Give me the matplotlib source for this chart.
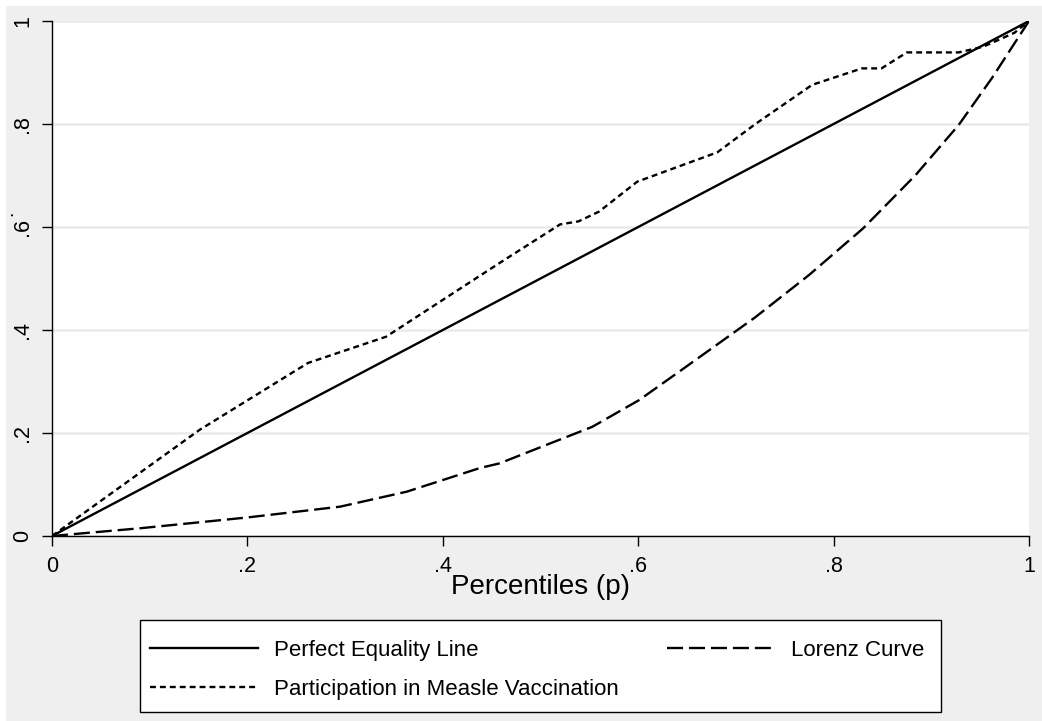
import matplotlib.pyplot as plt
from matplotlib.patches import Rectangle

plt.rcParams['font.family'] = ['Liberation Sans', 'DejaVu Sans']
plt.rcParams['xtick.labelsize'] = 15.5
plt.rcParams['ytick.labelsize'] = 15.5

# percentiles and cumulative shares
equal_p = [0, 0.2, 0.4, 0.6, 0.8, 1.0]
equal_v = [0, 0.2, 0.4, 0.6, 0.8, 1.0]

vacc_p = [0, 0.151, 0.262, 0.342, 0.458, 0.52, 0.539, 0.56, 0.599, 0.681,
          0.72, 0.778, 0.829, 0.849, 0.875, 0.928, 0.953, 0.985, 1.0]
vacc_v = [0, 0.206, 0.336, 0.387, 0.53, 0.605, 0.611, 0.63, 0.688, 0.745,
          0.80, 0.876, 0.908, 0.908, 0.939, 0.939, 0.950, 0.977, 1.0]

lorenz_p = [0, 0.09, 0.2, 0.295, 0.363, 0.438, 0.458, 0.553, 0.601, 0.65,
            0.72, 0.775, 0.830, 0.884, 0.928, 0.962, 1.0]
lorenz_v = [0, 0.015, 0.036, 0.057, 0.086, 0.132, 0.141, 0.212, 0.264, 0.33,
            0.425, 0.507, 0.597, 0.701, 0.798, 0.889, 1.0]

ticks = [0, 0.2, 0.4, 0.6, 0.8, 1.0]
tick_labels = ['0', '.2', '.4', '.6', '.8', '1']

W, H = 1042, 721
fig = plt.figure(figsize=(W / 100, H / 100), dpi=100)
fig.patch.set_facecolor('white')
# stata-like grey graph region, leaves a thin white strip top and left
fig.patches.append(Rectangle((6 / W, 0), 1, 1 - 6 / H, transform=fig.transFigure,
                             facecolor='#efefef', edgecolor='none', zorder=-10))

ax = fig.add_axes([52 / W, 1 - 536 / H, (1029 - 52) / W, (536 - 21) / H])
ax.set_facecolor('white')
ax.set_xlim(0, 1)
ax.set_ylim(0, 1)

LW = 1.7
ax.plot(equal_p, equal_v, color='black', lw=LW, label='Perfect Equality Line')
ax.plot(vacc_p, vacc_v, color='black', lw=LW, dashes=(2.5, 1.7),
        label='Participation in Measle Vaccination')
ax.plot(lorenz_p, lorenz_v, color='black', lw=LW, dashes=(6.8, 2.5),
        label='Lorenz Curve')

ax.set_xticks(ticks, tick_labels)
ax.set_yticks(ticks, tick_labels)
ax.tick_params(length=7.5, width=1, color='black')
ax.tick_params(axis='x', pad=7)
ax.tick_params(axis='y', labelrotation=90, pad=6)
for t in ax.get_yticklabels():
    t.set_va('center')
    t.set_fontsize(15.5)
for t in ax.get_xticklabels():
    t.set_fontsize(15.5)
ax.grid(axis='y', color='#eaeaea', lw=1.8)
ax.set_axisbelow(True)

for s in ['top', 'right']:
    ax.spines[s].set_visible(False)
for s in ['left', 'bottom']:
    ax.spines[s].set_linewidth(1)

ax.set_xlabel('Percentiles (p)', fontsize=20, labelpad=-2)
fig.text(8 / W, 1 - 213 / H, '.', rotation=90, fontsize=14, ha='center', va='center')

# legend box drawn on its own, entries placed inside it
fig.patches.append(Rectangle((140 / W, 1 - 712 / H), (941 - 140) / W, 92 / H,
                             transform=fig.transFigure, facecolor='white',
                             edgecolor='black', lw=1, zorder=1))
leg = fig.legend(loc='upper left', ncol=2, bbox_to_anchor=(150 / W, 1 - 640 / H),
                 fontsize=16, handlelength=4.86, handletextpad=0.72,
                 columnspacing=2.16, labelspacing=0.82, borderpad=0,
                 borderaxespad=0, frameon=False)
leg.set_zorder(2)

fig.savefig('out.png', dpi=100)
